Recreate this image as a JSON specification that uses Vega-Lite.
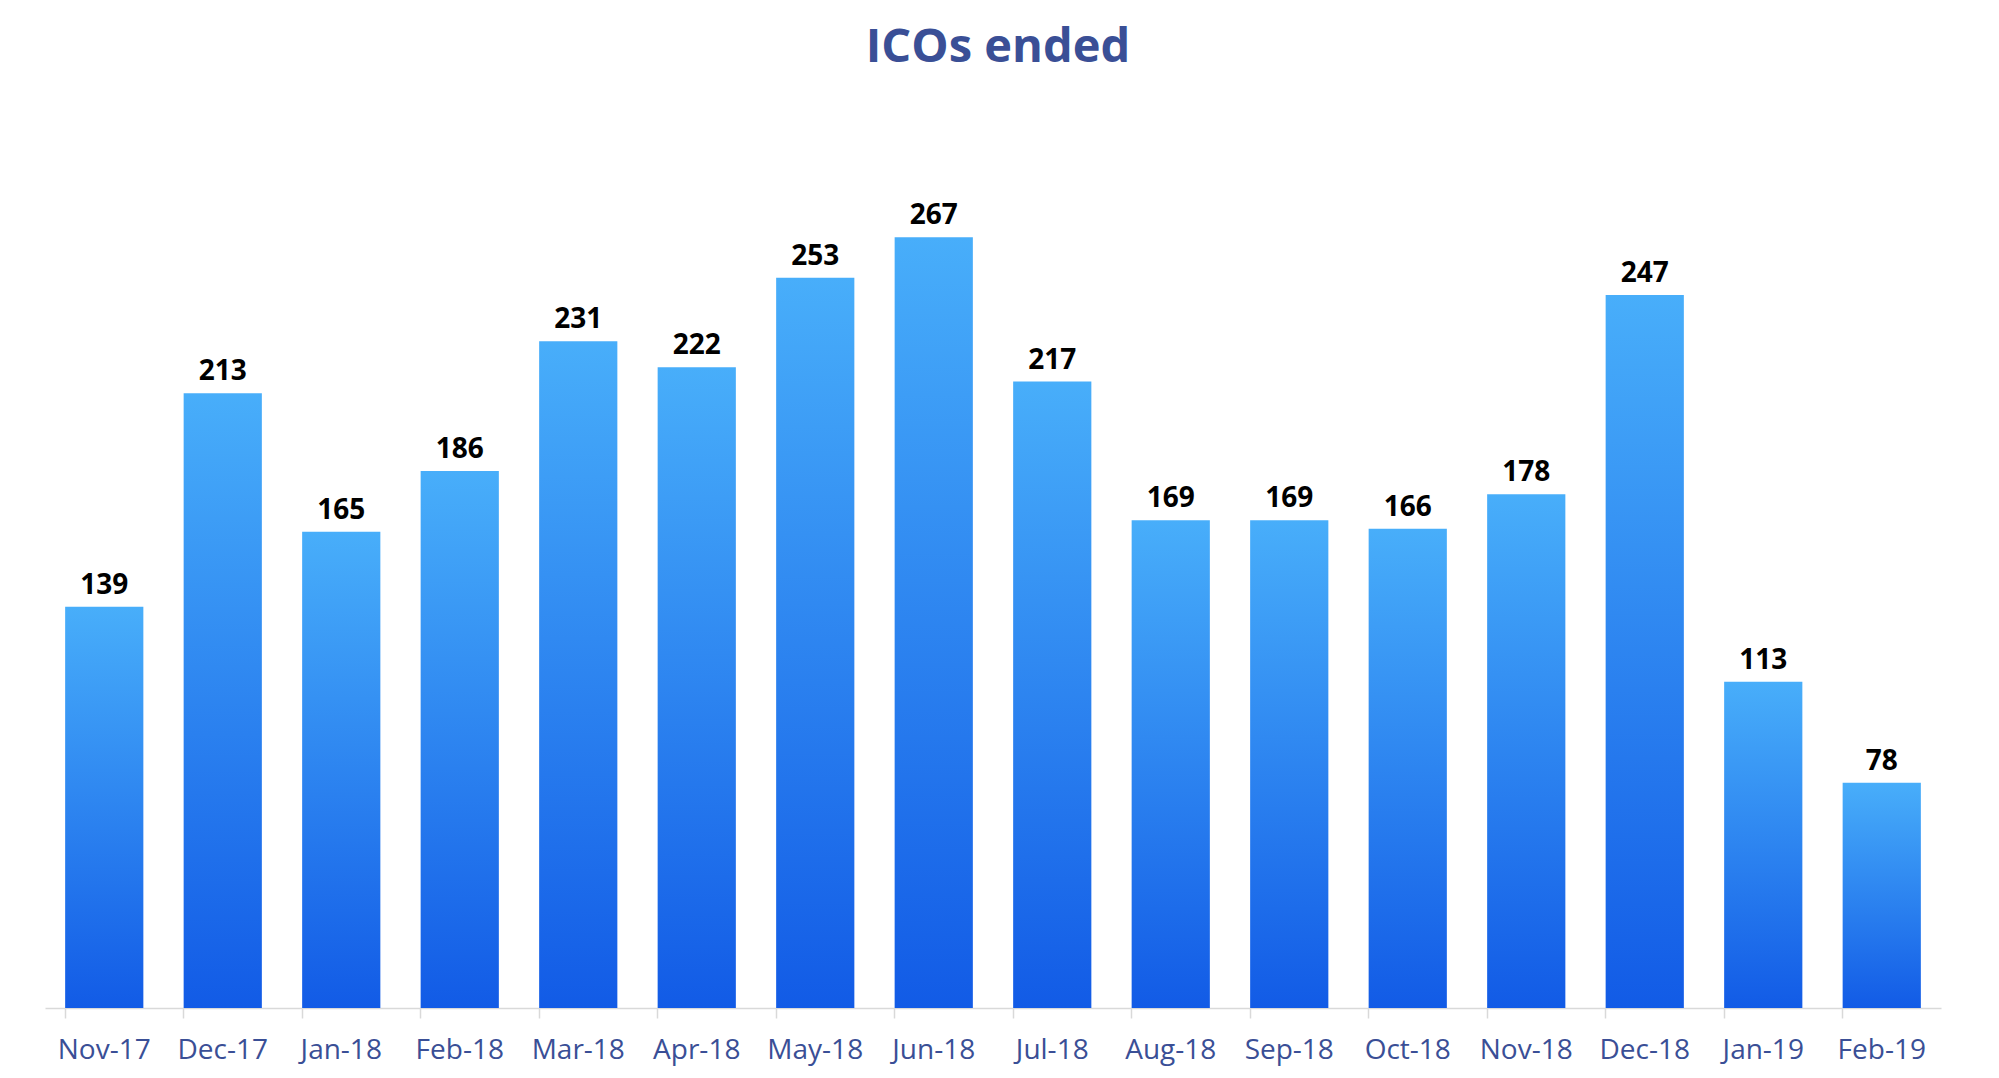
{
  "$schema": "https://vega.github.io/schema/vega-lite/v6.json",
  "autosize": "none",
  "width": 1896,
  "height": 866,
  "padding": {"left": 45, "top": 142, "right": 58, "bottom": 70},
  "background": "white",
  "config": {"view": {"stroke": null}, "font": "Open Sans"},
  "title": {
    "text": "ICOs ended",
    "fontSize": 47,
    "fontWeight": "bold",
    "color": "#3a4f96",
    "font": "Open Sans",
    "anchor": "middle",
    "frame": "group",
    "offset": 70,
    "dx": 5
  },
  "data": {
    "values": [
      {"month": "Nov-17", "count": 139},
      {"month": "Dec-17", "count": 213},
      {"month": "Jan-18", "count": 165},
      {"month": "Feb-18", "count": 186},
      {"month": "Mar-18", "count": 231},
      {"month": "Apr-18", "count": 222},
      {"month": "May-18", "count": 253},
      {"month": "Jun-18", "count": 267},
      {"month": "Jul-18", "count": 217},
      {"month": "Aug-18", "count": 169},
      {"month": "Sep-18", "count": 169},
      {"month": "Oct-18", "count": 166},
      {"month": "Nov-18", "count": 178},
      {"month": "Dec-18", "count": 247},
      {"month": "Jan-19", "count": 113},
      {"month": "Feb-19", "count": 78}
    ]
  },
  "encoding": {
    "x": {
      "field": "month",
      "type": "nominal",
      "sort": null,
      "scale": {"paddingInner": 0.34, "paddingOuter": 0.17},
      "axis": {
        "title": null,
        "labelAngle": 0,
        "labelFontSize": 28,
        "labelColor": "#3a4f96",
        "labelFont": "Open Sans",
        "labelPadding": 18,
        "bandPosition": 0,
        "tickSize": 10,
        "tickColor": "#d9d9d9",
        "tickWidth": 1.5,
        "domainColor": "#d9d9d9",
        "domainWidth": 1.5,
        "grid": false
      }
    },
    "y": {
      "field": "count",
      "type": "quantitative",
      "scale": {"domain": [0, 300], "nice": false},
      "axis": null
    }
  },
  "layer": [
    {
      "mark": {
        "type": "bar",
        "color": {
          "gradient": "linear",
          "x1": 0, "y1": 0, "x2": 0, "y2": 1,
          "stops": [
            {"offset": 0, "color": "#48aefa"},
            {"offset": 1, "color": "#125be6"}
          ]
        }
      }
    },
    {
      "mark": {
        "type": "text",
        "baseline": "bottom",
        "dy": -7,
        "fontSize": 28,
        "fontWeight": "bold",
        "font": "Open Sans",
        "color": "#000000"
      },
      "encoding": {"text": {"field": "count", "type": "quantitative"}}
    }
  ]
}
